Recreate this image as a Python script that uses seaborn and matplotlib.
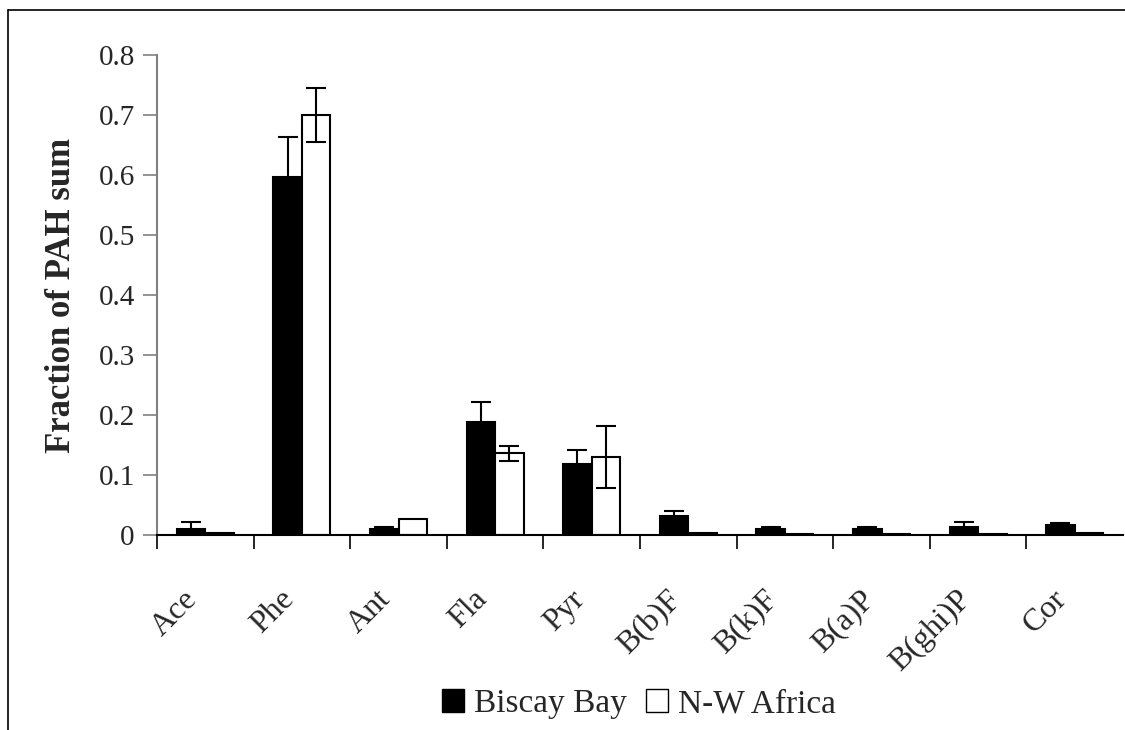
import matplotlib
matplotlib.use("Agg")
import matplotlib.pyplot as plt
import matplotlib.transforms as mtrans
import seaborn as sns
import pandas as pd
import numpy as np
from matplotlib.lines import Line2D
from matplotlib.patches import Patch

categories = ["Ace", "Phe", "Ant", "Fla", "Pyr", "B(b)F", "B(k)F", "B(a)P", "B(ghi)P", "Cor"]
biscay = [0.0095, 0.597, 0.010, 0.189, 0.118, 0.032, 0.0105, 0.0105, 0.013, 0.0167]
biscay_err = [0.012, 0.066, 0.003, 0.033, 0.024, 0.008, 0.0025, 0.0025, 0.009, 0.003]
nwafrica = [0.003, 0.700, 0.027, 0.136, 0.130, 0.004, 0.001, 0.001, 0.001, 0.004]
nwafrica_err = [0.0, 0.045, 0.0, 0.013, 0.052, 0.0, 0.0, 0.0, 0.0, 0.0]
series = ["Biscay Bay", "N-W Africa"]
yticks = [0, 0.1, 0.2, 0.3, 0.4, 0.5, 0.6, 0.7, 0.8]

df = pd.DataFrame({
    "cat": categories * 2,
    "val": biscay + nwafrica,
    "err": biscay_err + nwafrica_err,
    "series": [series[0]] * len(categories) + [series[1]] * len(categories),
})

sns.set_style("white")
plt.rcParams["font.family"] = ["Liberation Serif", "DejaVu Serif"]

fig = plt.figure(figsize=(11.25, 7.3), dpi=100)
ax = fig.add_axes([157 / 1125, 1 - 535 / 730, (1123 - 157) / 1125, (535 - 55) / 730])

sns.barplot(data=df, x="cat", y="val", hue="series", order=categories,
            hue_order=series, palette=["black", "white"], edgecolor="black",
            linewidth=1.5, width=0.59, errorbar=None, legend=False, ax=ax)

# error bars from bar positions
for container, s in zip(ax.containers, series):
    sub = df[df["series"] == s]
    xs = [p.get_x() + p.get_width() / 2 for p in container.patches]
    hs = [p.get_height() for p in container.patches]
    errs = sub["err"].to_numpy()
    mask = errs > 0
    ax.errorbar(np.array(xs)[mask], np.array(hs)[mask], yerr=errs[mask],
                fmt="none", ecolor="black", elinewidth=1.5, capsize=7.5,
                capthick=1.5, zorder=5)

ax.set_ylim(0, 0.8)
ax.set_xlim(-0.5, len(categories) - 0.5)
ax.set_yticks(yticks)
ax.set_yticklabels(["0" if v == 0 else f"{v:.1f}" for v in yticks], fontsize=21)
ax.tick_params(axis="y", direction="out", length=10, width=1.2, color="#808080",
               left=True, pad=6)
ax.set_xticks(range(len(categories)))
ax.set_xticklabels(categories, fontsize=23, rotation=45, ha="right",
                   rotation_mode="anchor")
ax.tick_params(axis="x", which="major", length=0, pad=36)
ax.set_xticks(np.arange(-0.5, len(categories) - 0.5, 1.0), minor=True)
ax.tick_params(axis="x", which="minor", direction="out", length=10, width=1.2,
               color="black", bottom=True)
shift = mtrans.ScaledTranslation(-16 / 72, 0, fig.dpi_scale_trans)
for lab in ax.get_xticklabels():
    lab.set_transform(lab.get_transform() + shift)

for sp in ["top", "right"]:
    ax.spines[sp].set_visible(False)
ax.spines["left"].set_color("#808080")
ax.spines["left"].set_linewidth(1.5)
ax.spines["bottom"].set_color("black")
ax.spines["bottom"].set_linewidth(1.5)

ax.set_xlabel("")
ax.set_ylabel("Fraction of PAH sum", fontsize=25, fontweight="bold", labelpad=15)

handles = [Patch(facecolor="black", edgecolor="black", label=series[0]),
           Patch(facecolor="white", edgecolor="black", label=series[1])]
fig.legend(handles=handles, loc="center", bbox_to_anchor=(639 / 1125, 1 - 704 / 730),
           ncol=2, frameon=False, fontsize=24, handlelength=0.66, handleheight=0.66,
           handletextpad=0.32, columnspacing=0.55, borderpad=0)

# outer chart border
fig.add_artist(Line2D([8 / 1125, 1.0], [1 - 10 / 730, 1 - 10 / 730],
                      transform=fig.transFigure, color="black", lw=1.2))
fig.add_artist(Line2D([8 / 1125, 8 / 1125], [0, 1 - 10 / 730],
                      transform=fig.transFigure, color="black", lw=1.2))

fig.savefig("out.png", dpi=100, facecolor="white")
